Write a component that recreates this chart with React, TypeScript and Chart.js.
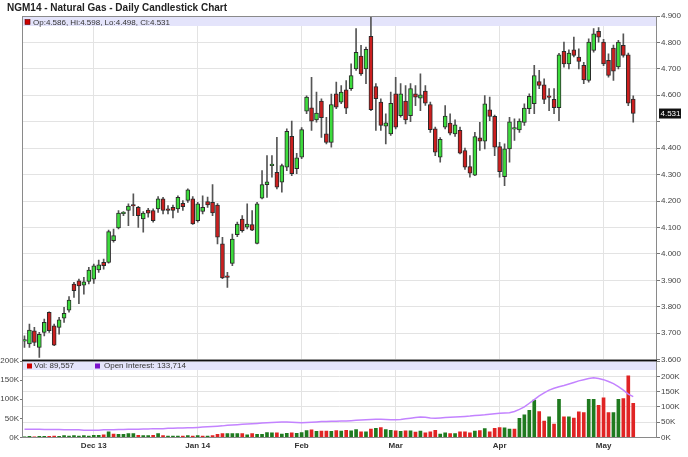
import React, { useEffect, useRef } from "react";
import { Chart, registerables } from "chart.js";

Chart.register(...registerables);

const TITLE = "NGM14 - Natural Gas - Daily Candlestick Chart";

const opens = [3.670,3.659,3.709,3.646,3.703,3.779,3.728,3.722,3.757,3.787,
3.886,3.898,3.882,3.896,3.904,3.939,3.968,3.968,4.050,4.098,
4.152,4.164,4.183,4.176,4.132,4.166,4.164,4.170,4.208,4.170,
4.176,4.170,4.191,4.202,4.208,4.126,4.161,4.198,4.195,4.185,
4.038,3.912,3.964,4.073,4.132,4.101,4.111,4.040,4.211,4.262,
4.334,4.309,4.271,4.328,4.445,4.322,4.366,4.540,4.553,4.507,
4.578,4.454,4.422,4.606,4.574,4.621,4.625,4.700,4.748,4.700,
4.823,4.633,4.574,4.483,4.454,4.606,4.523,4.578,4.523,4.606,
4.589,4.616,4.565,4.473,4.366,4.479,4.495,4.454,4.467,4.391,
4.330,4.298,4.439,4.426,4.545,4.520,4.406,4.292,4.397,4.472,
4.469,4.497,4.549,4.568,4.652,4.640,4.594,4.585,4.553,4.766,
4.719,4.772,4.745,4.713,4.656,4.770,4.842,4.801,4.732,4.779,
4.707,4.789,4.753,4.586];

const highs = [3.690,3.734,3.722,3.703,3.753,3.781,3.734,3.760,3.798,3.838,
3.892,3.905,3.911,3.949,3.961,3.977,3.980,4.090,4.094,4.164,
4.160,4.189,4.227,4.180,4.160,4.172,4.170,4.217,4.214,4.183,
4.185,4.220,4.202,4.246,4.217,4.195,4.220,4.215,4.262,4.190,
4.063,3.930,4.075,4.120,4.145,4.189,4.164,4.195,4.315,4.372,
4.372,4.441,4.340,4.473,4.502,4.380,4.478,4.598,4.668,4.612,
4.587,4.517,4.605,4.650,4.637,4.656,4.719,4.852,4.789,4.782,
4.900,4.644,4.587,4.530,4.612,4.668,4.644,4.637,4.644,4.637,
4.681,4.637,4.574,4.480,4.440,4.561,4.530,4.507,4.480,4.400,
4.372,4.460,4.498,4.599,4.593,4.525,4.422,4.416,4.517,4.511,
4.511,4.568,4.606,4.713,4.694,4.662,4.625,4.625,4.759,4.801,
4.772,4.820,4.776,4.725,4.814,4.852,4.856,4.812,4.757,4.790,
4.808,4.833,4.760,4.598];

const lows = [3.646,3.646,3.653,3.608,3.690,3.703,3.653,3.696,3.741,3.779,
3.835,3.812,3.848,3.886,3.888,3.930,3.942,3.965,4.044,4.094,
4.145,4.107,4.145,4.100,4.082,4.139,4.120,4.157,4.151,4.151,
4.136,4.157,4.164,4.195,4.111,4.120,4.151,4.176,4.145,4.038,
3.906,3.873,3.955,4.065,4.082,4.094,4.088,4.038,4.208,4.214,
4.290,4.246,4.233,4.315,4.296,4.303,4.360,4.530,4.467,4.498,
4.441,4.416,4.404,4.549,4.568,4.530,4.618,4.694,4.675,4.644,
4.542,4.467,4.467,4.416,4.448,4.473,4.517,4.492,4.500,4.561,
4.542,4.562,4.460,4.372,4.347,4.473,4.450,4.444,4.378,4.320,
4.290,4.296,4.391,4.397,4.504,4.372,4.290,4.258,4.347,4.429,
4.460,4.486,4.530,4.530,4.625,4.568,4.542,4.530,4.504,4.706,
4.700,4.745,4.700,4.644,4.650,4.763,4.801,4.712,4.669,4.656,
4.700,4.744,4.561,4.498];

const closes = [3.672,3.712,3.665,3.696,3.741,3.709,3.655,3.750,3.775,3.825,
3.861,3.879,3.894,3.939,3.955,3.959,3.955,4.084,4.069,4.154,
4.155,4.181,4.181,4.145,4.154,4.154,4.126,4.208,4.164,4.164,
4.164,4.214,4.179,4.242,4.113,4.189,4.176,4.185,4.155,4.063,
3.909,3.911,4.056,4.113,4.088,4.113,4.090,4.189,4.262,4.273,
4.335,4.252,4.334,4.464,4.303,4.363,4.470,4.593,4.502,4.533,
4.515,4.422,4.565,4.555,4.612,4.551,4.675,4.763,4.681,4.774,
4.546,4.587,4.486,4.496,4.570,4.479,4.606,4.507,4.625,4.593,
4.602,4.570,4.470,4.385,4.433,4.521,4.457,4.488,4.381,4.328,
4.305,4.444,4.426,4.568,4.520,4.404,4.311,4.397,4.500,4.474,
4.502,4.552,4.596,4.675,4.637,4.584,4.592,4.553,4.753,4.719,
4.760,4.751,4.728,4.658,4.801,4.833,4.820,4.719,4.675,4.691,
4.801,4.751,4.570,4.531];

// volume in thousands of contracts
const volumesK = [2,3,2,3,3,3,4,3,5,4,
5,4,5,4,6,6,7,15,9,8,
8,10,10,6,5,5,6,10,5,4,
4,4,4,5,4,5,4,4,5,8,
10,10,10,10,10,7,10,8,8,13,
12,12,9,11,12,11,13,18,20,16,
17,17,16,18,17,19,17.5,21,15,15,
22,24,26,21,19,17.5,16,17.5,17.5,14,
17,12,15,19,9,12,10.5,10.5,15,15,
12,17,18,23,15,24,26,25,22,22,
50,59,71,98,68,43,54,35,100,54,
54,51,67,65,100,100,84,104,65,65,
100,102,161,89.557];

// open interest in thousands
const openInterestK = [27,27,27,27,26,26,26,26,25,25,25,25,24,24,24,
24,25,25,25,26,26,27,27,27,28,28,29,29,29,30,30,31,31,32,32,33,
34,35,36,37,38,40,41,42,43,44,45,46,47,48,49,50,51,51,50,49,48,
49,50,51,52,52,53,53,54,54,55,56,57,58,59,60,60,59,58,58,
59,61,63,65,67,66,64,63,64,65,66,67,68,69,70,72,73,74,76,78,79,
80,81,85,92,100,112,124,136,146,155,161,166,170,175,180,185,189,193,195,193,189,183,176,166,155,142,133.714];

const monthTickIdx = [14, 35, 56, 75, 96, 117];
const monthLabels = ["Dec 13", "Jan 14", "Feb", "Mar", "Apr", "May"];

const lastVolume = "89,557";
const lastOI = "133,714";

const FONT = "'Liberation Sans', Arial, Helvetica, sans-serif";
const GREEN = "#3ddc3d";
const RED = "#cc1f1f";
const VGREEN = "#1f7a1f";
const VRED = "#e02424";
const BAND = "#e4e4fb";
const GRID = "#e3e3e3";
const X_MIN = -0.5;
const X_MAX = 127.8;

const fmt3 = (v: number) => v.toFixed(3);

export default function App() {
  const priceRef = useRef<HTMLCanvasElement | null>(null);
  const volRef = useRef<HTMLCanvasElement | null>(null);

  useEffect(() => {
    Chart.defaults.font.family = FONT;
    Chart.defaults.font.size = 8;
    const idx = closes.map((_, i) => i);
    const n = closes.length;
    const last = n - 1;

    const monthTicks = (axis: any) => {
      axis.ticks = monthTickIdx.map((v) => ({ value: v }));
    };

    const pricePlugin = {
      id: "priceDeco",
      beforeDatasetsDraw(chart: any) {
        const { ctx, chartArea: a } = chart;
        ctx.save();
        ctx.fillStyle = BAND;
        ctx.fillRect(a.left, a.top, a.right - a.left, 10);
        ctx.fillStyle = "#cc0000";
        ctx.fillRect(25, 19.5, 5, 5);
        ctx.strokeStyle = "#550000";
        ctx.lineWidth = 0.6;
        ctx.strokeRect(25, 19.5, 5, 5);
        ctx.fillStyle = "#333";
        ctx.font = `8px ${FONT}`;
        ctx.textBaseline = "middle";
        ctx.textAlign = "left";
        ctx.fillText(
          `Op:${fmt3(opens[last])}, Hi:${fmt3(highs[last])}, Lo:${fmt3(lows[last])}, Cl:${fmt3(closes[last])}`,
          33,
          22.5
        );
        ctx.restore();
      },
      afterDraw(chart: any) {
        const { ctx, chartArea: a, scales } = chart;
        ctx.save();
        ctx.strokeStyle = "#8a8a8a";
        ctx.lineWidth = 1;
        ctx.strokeRect(a.left + 0.5, a.top + 0.5, a.right - a.left - 1, a.bottom - a.top);
        const y = scales.y.getPixelForValue(closes[last]);
        ctx.fillStyle = "#111";
        ctx.fillRect(659, y - 5, 22, 10);
        ctx.fillStyle = "#fff";
        ctx.font = `8px ${FONT}`;
        ctx.textBaseline = "middle";
        ctx.textAlign = "left";
        ctx.fillText(fmt3(closes[last]), 660.5, y + 0.5);
        ctx.fillStyle = "#222";
        ctx.font = `bold 10px ${FONT}`;
        ctx.textBaseline = "alphabetic";
        ctx.fillText(TITLE, 7, 10.5);
        ctx.restore();
      },
    };

    const priceChart = new Chart(priceRef.current as HTMLCanvasElement, {
      type: "bar",
      data: {
        datasets: [
          {
            label: "Body",
            data: idx.map((i) => ({ x: i, y: [opens[i], closes[i]] })) as any,
            backgroundColor: idx.map((i) => (closes[i] >= opens[i] ? GREEN : RED)),
            borderColor: "#2a2a2a",
            borderWidth: 1,
            borderSkipped: false,
            barThickness: 4,
            minBarLength: 1.5,
            grouped: false,
            order: 1,
          } as any,
          {
            label: "Wick",
            data: idx.map((i) => ({ x: i, y: [lows[i], highs[i]] })) as any,
            backgroundColor: "#555",
            borderWidth: 0,
            barThickness: 1,
            grouped: false,
            order: 2,
          } as any,
        ],
      },
      options: {
        animation: false,
        responsive: false,
        events: [],
        layout: { padding: { left: 22, top: 16, right: 0, bottom: 8.4 } },
        plugins: { legend: { display: false }, tooltip: { enabled: false }, title: { display: false } },
        scales: {
          x: {
            type: "linear",
            min: X_MIN,
            max: X_MAX,
            offset: false,
            afterBuildTicks: monthTicks,
            ticks: { display: false },
            grid: { color: GRID, drawTicks: false, offset: false },
            border: { display: false },
            afterFit: (s: any) => {
              s.height = 0;
            },
          } as any,
          y: {
            position: "right",
            min: 3.6,
            max: 4.9,
            ticks: {
              stepSize: 0.1,
              color: "#444",
              padding: 1,
              font: { size: 8 },
              callback: (v: any) => (Math.abs(v - closes[last]) < 0.04 ? "" : Number(v).toFixed(3)),
            },
            grid: { color: GRID, tickColor: "#777", tickLength: 3 },
            border: { display: false },
            afterFit: (s: any) => {
              s.width = 31;
            },
          } as any,
        },
      },
      plugins: [pricePlugin],
    });

    const volPlugin = {
      id: "volDeco",
      beforeDatasetsDraw(chart: any) {
        const { ctx, chartArea: a } = chart;
        ctx.save();
        ctx.fillStyle = BAND;
        ctx.fillRect(a.left, a.top, a.right - a.left, 9);
        ctx.fillStyle = "#cc0000";
        ctx.fillRect(27, 8.5, 5, 5);
        ctx.fillStyle = "#7a10cc";
        ctx.fillRect(95, 8.5, 5, 5);
        ctx.fillStyle = "#333";
        ctx.font = `8px ${FONT}`;
        ctx.textBaseline = "middle";
        ctx.textAlign = "left";
        ctx.fillText(`Vol: ${lastVolume}`, 34, 11.2);
        ctx.fillText(`Open Interest: ${lastOI}`, 104, 11.2);
        ctx.restore();
      },
      afterDraw(chart: any) {
        const { ctx, chartArea: a } = chart;
        ctx.save();
        ctx.strokeStyle = "#8a8a8a";
        ctx.lineWidth = 1;
        ctx.strokeRect(a.left + 0.5, a.top, a.right - a.left - 1, a.bottom - a.top);
        ctx.strokeStyle = "#111";
        ctx.lineWidth = 1.5;
        ctx.beginPath();
        ctx.moveTo(a.left, a.top - 0.5);
        ctx.lineTo(a.right, a.top - 0.5);
        ctx.stroke();
        ctx.restore();
      },
    };

    const volChart = new Chart(volRef.current as HTMLCanvasElement, {
      type: "bar",
      data: {
        datasets: [
          {
            type: "line",
            label: "Open Interest",
            data: idx.map((i) => ({ x: i, y: openInterestK[i] * 1000 })),
            yAxisID: "yOI",
            borderColor: "#c383ff",
            borderWidth: 1.5,
            pointRadius: 0,
            tension: 0,
            order: 0,
          } as any,
          {
            type: "bar",
            label: "Volume",
            data: idx.map((i) => ({ x: i, y: volumesK[i] * 1000 })),
            yAxisID: "yVol",
            backgroundColor: idx.map((i) =>
              closes[i] >= (i === 0 ? opens[0] : closes[i - 1]) ? VGREEN : VRED
            ),
            borderWidth: 0,
            barThickness: 3,
            grouped: false,
            order: 1,
          } as any,
        ],
      },
      options: {
        animation: false,
        responsive: false,
        events: [],
        layout: { padding: { left: 0, top: 6, right: 0, bottom: 0 } },
        plugins: { legend: { display: false }, tooltip: { enabled: false } },
        scales: {
          x: {
            type: "linear",
            min: X_MIN,
            max: X_MAX,
            offset: false,
            afterBuildTicks: monthTicks,
            ticks: {
              autoSkip: false,
              maxRotation: 0,
              padding: 3,
              color: "#333",
              font: { size: 8, weight: "bold" },
              callback: (_v: any, i: number) => monthLabels[i],
            },
            grid: { color: GRID, drawTicks: false, offset: false },
            border: { display: false },
            afterFit: (s: any) => {
              s.height = 19.5;
            },
          } as any,
          yVol: {
            position: "left",
            min: 0,
            max: 200000,
            ticks: {
              stepSize: 50000,
              color: "#444",
              padding: 1,
              font: { size: 8 },
              callback: (v: any) => `${Math.round(v / 1000)}K`,
            },
            grid: { drawOnChartArea: false, tickColor: "#777", tickLength: 2 },
            border: { display: false },
            afterFit: (s: any) => {
              s.width = 22;
            },
          } as any,
          yOI: {
            position: "right",
            min: 0,
            max: 250000,
            ticks: {
              stepSize: 50000,
              color: "#444",
              padding: 1,
              font: { size: 8 },
              callback: (v: any) => (v > 200000 ? "" : `${Math.round(v / 1000)}K`),
            },
            grid: { color: GRID, tickColor: "#777", tickLength: 3 },
            border: { display: false },
            afterFit: (s: any) => {
              s.width = 31;
            },
          } as any,
        },
      },
      plugins: [volPlugin],
    });

    return () => {
      priceChart.destroy();
      volChart.destroy();
    };
  }, []);

  return (
    <div style={{ position: "fixed", left: 0, top: 0, width: 688, height: 457, background: "#fff", overflow: "hidden" }}>
      <canvas
        ref={priceRef}
        width={688}
        height={368}
        style={{ position: "absolute", left: 0, top: 0, width: 688, height: 368 }}
      />
      <canvas
        ref={volRef}
        width={688}
        height={102}
        style={{ position: "absolute", left: 0, top: 355, width: 688, height: 102 }}
      />
    </div>
  );
}
